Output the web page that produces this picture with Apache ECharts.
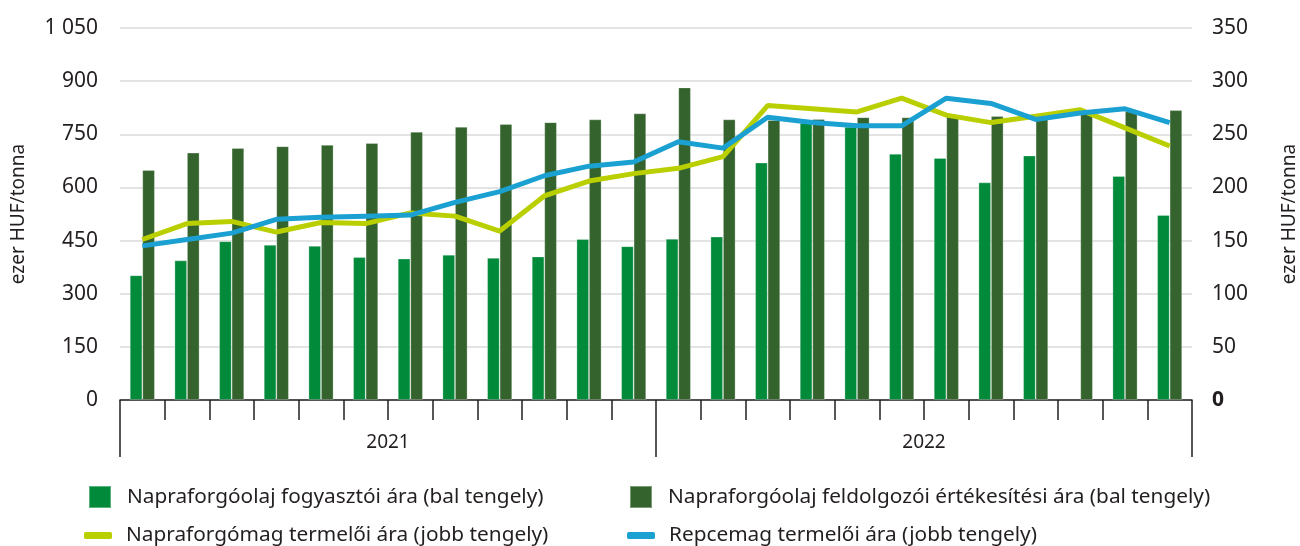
<!DOCTYPE html>
<html>
<head>
<meta charset="utf-8">
<script src="https://cdn.jsdelivr.net/npm/echarts@6/dist/echarts.min.js"></script>
<style>
html,body{margin:0;padding:0;background:#fff;}
#chart{width:1300px;height:546px;}
</style>
</head>
<body>
<div id="chart"></div>
<script>
const months = ['2021-01','2021-02','2021-03','2021-04','2021-05','2021-06','2021-07','2021-08','2021-09','2021-10','2021-11','2021-12',
                '2022-01','2022-02','2022-03','2022-04','2022-05','2022-06','2022-07','2022-08','2022-09','2022-10','2022-11','2022-12'];
const years = ['2021','2022'];
const leftTicks = [0,150,300,450,600,750,900,1050];
const rightTicks = [0,50,100,150,200,250,300,350];

const oilConsumer = [352,394,448,438,435,403,399,410,401,405,454,434,
                     455,461,670,782,771,695,683,614,690,null,632,522];
const oilProcessor = [649,698,711,716,720,725,757,771,779,784,792,809,
                      882,792,790,793,798,798,803,801,793,810,815,818];
const sunflowerSeed = [151,166,168,158,167,166,176,173,159,192,206,213,
                       218,229,277,274,271,284,268,261,267,273,256,239];
const rapeSeed = [145,151,157,170,172,173,174,186,196,211,220,224,
                  243,237,266,261,258,258,284,279,264,270,274,261];

const names = [
  'Napraforgóolaj fogyasztói ára (bal tengely)',
  'Napraforgóolaj feldolgozói értékesítési ára (bal tengely)',
  'Napraforgómag termelői ára (jobb tengely)',
  'Repcemag termelői ára (jobb tengely)'
];
const colors = ['#008A3A','#35632E','#BACF00','#1BA0D2'];

const FONT = 'Noto Sans';
const TXT = '#231F20';

function fmtThousands(v){
  const s = String(v);
  return s.length > 3 ? s.slice(0, s.length-3) + ' ' + s.slice(-3) : s;
}

const chart = echarts.init(document.getElementById('chart'), null, {renderer:'canvas'});

function legendItem(idx, left, top, isLine){
  return {
    show: true,
    left: left, top: top,
    padding: 0,
    data: [{name: names[idx], icon: isLine ? 'roundRect' : 'rect'}],
    itemWidth: isLine ? 28 : 22,
    itemHeight: isLine ? 7 : 22,
    itemGap: 0,
    selectedMode: false,
    textStyle: {fontFamily: FONT, fontSize: 20.8, color: TXT, padding: [0,0,0,isLine ? 9 : 11]}
  };
}

chart.setOption({
  animation: false,
  textStyle: {fontFamily: FONT},
  grid: {left: 120, right: 108, top: 28, bottom: 146, containLabel: false, outerBoundsMode: 'none'},
  legend: [
    legendItem(0, 88, 485, false),
    legendItem(1, 629, 485, false),
    legendItem(2, 84, 525, true),
    legendItem(3, 627, 525, true)
  ],
  xAxis: [
    {
      type: 'category', data: months, position: 'bottom',
      axisLine: {show: true, lineStyle: {color: TXT, width: 1.5}},
      axisTick: {show: true, interval: 0, length: 20, lineStyle: {color: TXT, width: 1.5}},
      axisLabel: {show: false},
      splitLine: {show: false}
    },
    {
      type: 'category', data: years, position: 'bottom',
      axisLine: {show: false},
      axisTick: {show: true, interval: 0, length: 57, lineStyle: {color: TXT, width: 1.5}},
      axisLabel: {show: true, interval: 0, margin: 33, fontFamily: FONT, fontSize: 19, color: TXT},
      splitLine: {show: false}
    }
  ],
  yAxis: [
    {
      type: 'value', position: 'left', min: 0, max: 1050, interval: 150,
      name: 'ezer HUF/tonna', nameLocation: 'middle', nameRotate: 90, nameGap: 92,
      nameTextStyle: {fontFamily: FONT, fontSize: 19, color: TXT},
      axisLine: {show: false}, axisTick: {show: false},
      axisLabel: {margin: 22, fontFamily: FONT, fontSize: 21, color: TXT, formatter: v => fmtThousands(v)},
      splitLine: {show: true, lineStyle: {color: '#DADADA', width: 1.5}}
    },
    {
      type: 'value', position: 'right', min: 0, max: 350, interval: 50,
      name: 'ezer HUF/tonna', nameLocation: 'middle', nameRotate: 90, nameGap: 88,
      nameTextStyle: {fontFamily: FONT, fontSize: 19, color: TXT},
      axisLine: {show: false}, axisTick: {show: false},
      axisLabel: {
        margin: 20, fontFamily: FONT, fontSize: 21, color: TXT,
        formatter: v => v === 0 ? '{b|0}' : String(v),
        rich: {b: {fontFamily: FONT, fontSize: 21, fontWeight: 'bold', color: TXT}}
      },
      splitLine: {show: false}
    }
  ],
  series: [
    {
      name: names[0], type: 'bar', xAxisIndex: 0, yAxisIndex: 0, data: oilConsumer,
      barWidth: 12.5, barGap: '0%',
      itemStyle: {color: colors[0], borderColor: 'rgba(255,255,255,0.35)', borderWidth: 0.8},
      z: 2
    },
    {
      name: names[1], type: 'bar', xAxisIndex: 0, yAxisIndex: 0, data: oilProcessor,
      barWidth: 12.5, barGap: '0%',
      itemStyle: {color: colors[1], borderColor: 'rgba(255,255,255,0.35)', borderWidth: 0.8},
      z: 2
    },
    {
      name: names[2], type: 'line', xAxisIndex: 0, yAxisIndex: 1, data: sunflowerSeed,
      showSymbol: false, symbol: 'none', lineStyle: {color: colors[2], width: 5}, itemStyle: {color: colors[2]},
      z: 3
    },
    {
      name: names[3], type: 'line', xAxisIndex: 0, yAxisIndex: 1, data: rapeSeed,
      showSymbol: false, symbol: 'none', lineStyle: {color: colors[3], width: 5}, itemStyle: {color: colors[3]},
      z: 4
    }
  ]
});
</script>
</body>
</html>
